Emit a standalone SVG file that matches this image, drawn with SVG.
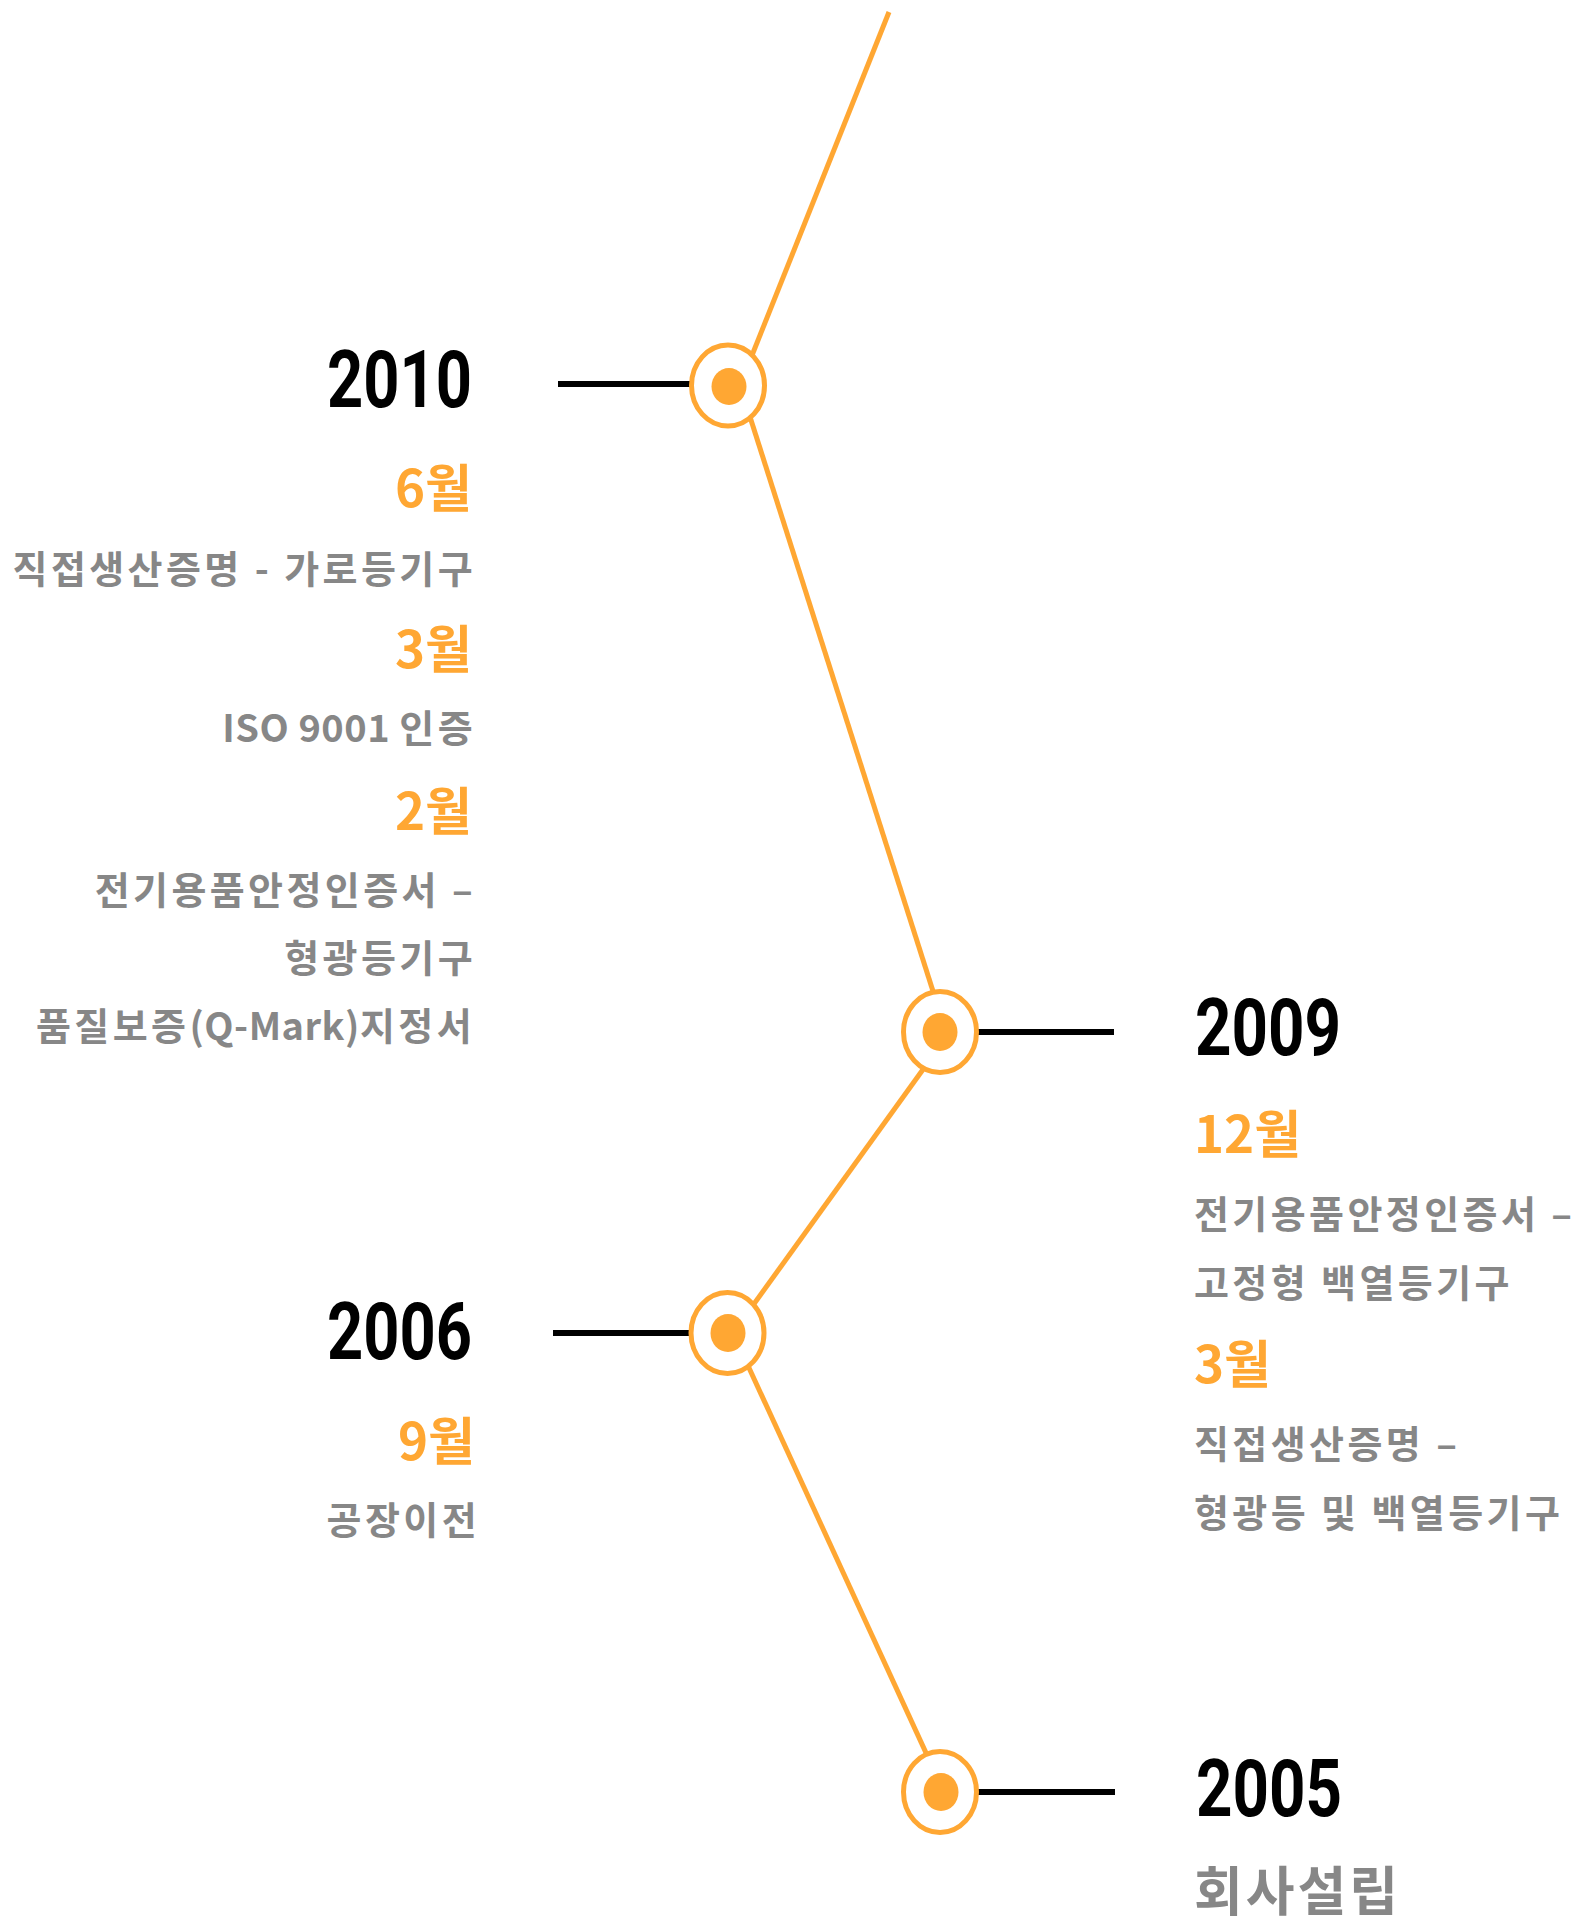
<svg xmlns="http://www.w3.org/2000/svg" width="1580" height="1919" viewBox="0 0 1580 1919">
<style>
.bg{fill:#ffffff}
.path{stroke:#ffa733;stroke-width:5;fill:none;stroke-linecap:butt}
.tick{stroke:#000000;stroke-width:6}
.ring{fill:#ffffff;stroke:#ffa733;stroke-width:5}
.dot{fill:#ffa733}
.year{font-family:Roboto,"Liberation Sans",sans-serif;font-weight:700;font-size:79px;fill:#000000}
.mon{font-family:"Noto Sans CJK KR","Noto Sans",sans-serif;font-weight:700;font-size:51px;fill:#ffa733}
.body{font-family:"Noto Sans CJK KR","Noto Sans",sans-serif;font-weight:700;font-size:38px;fill:#878787;letter-spacing:3.4px}
.lat{letter-spacing:0.5px}
.big{font-family:"Noto Sans CJK KR","Noto Sans",sans-serif;font-weight:700;font-size:53px;fill:#878787;letter-spacing:3px}
.l{text-anchor:end}
</style>
<rect class="bg" x="0" y="0" width="1580" height="1919"/>
<g id="connectors">
<line class="path" x1="889" y1="12" x2="740" y2="385.5"/>
<line class="path" x1="740" y1="385.5" x2="946" y2="1032"/>
<line class="path" x1="950" y1="1032" x2="733" y2="1333"/>
<line class="path" x1="733" y1="1333" x2="944" y2="1792"/>
<line class="tick" x1="558" y1="384" x2="690" y2="384"/>
<line class="tick" x1="978" y1="1032" x2="1114" y2="1032"/>
<line class="tick" x1="553" y1="1333" x2="690" y2="1333"/>
<line class="tick" x1="978" y1="1792" x2="1115" y2="1792"/>
</g>
<g id="node-2010">
<ellipse class="ring" cx="728" cy="385.5" rx="36.5" ry="40.5"/>
<ellipse class="dot" cx="729" cy="386.5" rx="17.5" ry="18.5"/>
<text class="year l" x="472" y="407" textLength="145" lengthAdjust="spacingAndGlyphs">2010</text>
<text class="mon l" x="472" y="507">6월</text>
<text class="body l" x="476" y="583">직접생산증명 - 가로등기구</text>
<text class="mon l" x="472" y="668">3월</text>
<text class="body l" x="476" y="742"><tspan class="lat">ISO 9001 </tspan>인증</text>
<text class="mon l" x="472" y="830">2월</text>
<text class="body l" x="476" y="904">전기용품안정인증서 –</text>
<text class="body l" x="476" y="972">형광등기구</text>
<text class="body l" x="475" y="1040">품질보증<tspan class="lat">(Q-Mark)</tspan>지정서</text>
</g>
<g id="node-2009">
<ellipse class="ring" cx="940" cy="1032" rx="36.5" ry="40.5"/>
<ellipse class="dot" cx="940" cy="1032" rx="17.5" ry="19"/>
<text class="year" x="1195" y="1055" textLength="146" lengthAdjust="spacingAndGlyphs">2009</text>
<text class="mon" x="1194" y="1153">12월</text>
<text class="body" x="1194" y="1228">전기용품안정인증서 –</text>
<text class="body" x="1194" y="1297">고정형 백열등기구</text>
<text class="mon" x="1194" y="1383">3월</text>
<text class="body" x="1194" y="1458">직접생산증명 –</text>
<text class="body" x="1194" y="1527">형광등 및 백열등기구</text>
</g>
<g id="node-2006">
<ellipse class="ring" cx="727.5" cy="1333" rx="36.5" ry="40.5"/>
<ellipse class="dot" cx="728" cy="1333" rx="17.5" ry="19"/>
<text class="year l" x="472" y="1359" textLength="145" lengthAdjust="spacingAndGlyphs">2006</text>
<text class="mon l" x="475" y="1460">9월</text>
<text class="body l" x="480" y="1534">공장이전</text>
</g>
<g id="node-2005">
<ellipse class="ring" cx="940" cy="1792" rx="36.5" ry="40.5"/>
<ellipse class="dot" cx="941" cy="1792" rx="17.5" ry="19"/>
<text class="year" x="1196" y="1816" textLength="146" lengthAdjust="spacingAndGlyphs">2005</text>
<text class="big" x="1194" y="1911">회사설립</text>
</g>
</svg>
